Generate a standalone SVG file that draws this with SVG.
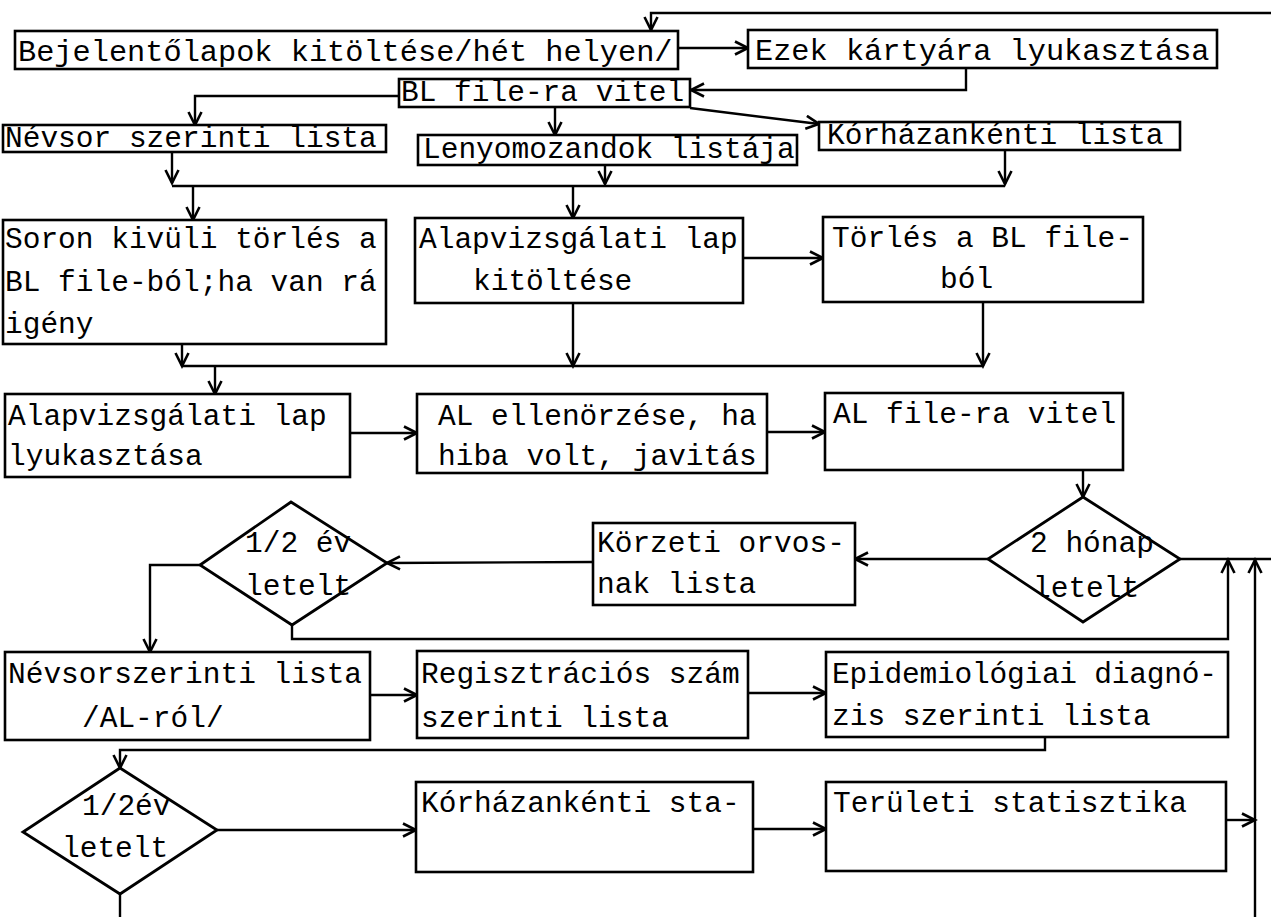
<svg xmlns="http://www.w3.org/2000/svg" width="1271" height="917" viewBox="0 0 1271 917">
<defs>
<marker id="arr" markerUnits="userSpaceOnUse" markerWidth="18" markerHeight="16" refX="15" refY="8" orient="auto">
<path d="M2,1.5 L15,8 L2,14.5" fill="none" stroke="#000" stroke-width="2.6"/>
</marker>
<style>
.box{fill:#fff;stroke:#000;stroke-width:2.6}
.dia{fill:#fff;stroke:#000;stroke-width:2.8}
.t{font-family:"Liberation Mono","Courier New",monospace;font-size:29.5px;fill:#000}
.tb{font-size:30.3px}
.c{fill:none;stroke:#000;stroke-width:2.4}
.a{fill:none;stroke:#000;stroke-width:2.4;marker-end:url(#arr)}
</style>
</defs>
<rect width="1271" height="917" fill="#fff"/>

<g id="connectors">
<path class="a" d="M1271,13 L651,13 L651,30"/>
<path class="a" d="M678,48 L748,48"/>
<path class="a" d="M966,68 L966,90 L691,90"/>
<path class="a" d="M400,96 L195,96 L195,125"/>
<path class="a" d="M555,107 L555,135"/>
<path class="a" d="M690,108 L819,124"/>
<path class="a" d="M172,152 L172,183"/>
<path class="a" d="M605,165 L605,184"/>
<path class="a" d="M1005,150 L1005,184"/>
<path class="c" d="M172,186 L1005,186"/>
<path class="a" d="M193,186 L193,220"/>
<path class="a" d="M573,186 L573,218"/>
<path class="a" d="M743,258 L823,258"/>
<path class="a" d="M182,344 L182,366"/>
<path class="a" d="M573,303 L573,366"/>
<path class="a" d="M983,302 L983,366"/>
<path class="c" d="M182,366 L983,366"/>
<path class="a" d="M215,366 L215,394"/>
<path class="a" d="M350,433 L417,433"/>
<path class="a" d="M767,432 L825,432"/>
<path class="a" d="M1083,470 L1083,497"/>
<path class="a" d="M988,559 L855,559"/>
<path class="a" d="M593,562 L387,563"/>
<path class="a" d="M200,565 L150,565 L150,652"/>
<path class="a" d="M292,625 L292,639 L1228,639 L1228,560"/>
<path class="c" d="M1180,559 L1271,559"/>
<path class="a" d="M1255,917 L1255,560"/>
<path class="a" d="M370,695 L417,695"/>
<path class="a" d="M748,693 L826,693"/>
<path class="a" d="M1045,737 L1045,750 L120,750 L120,768"/>
<path class="a" d="M217,830 L416,830"/>
<path class="a" d="M753,829 L826,829"/>
<path class="a" d="M1226,820 L1255,820"/>
<path class="c" d="M120,894 L120,917"/>
</g>

<g id="n1"><rect class="box" x="15" y="31" width="663" height="38"/><text class="t tb" x="18" y="61">Bejelentőlapok kitöltése/hét helyen/</text></g>
<g id="n2"><rect class="box" x="748" y="30" width="469" height="38"/><text class="t tb" x="755" y="60">Ezek kártyára lyukasztása</text></g>
<g id="n3"><rect class="box" x="399" y="79" width="291" height="28"/><text class="t" x="401" y="101">BL file-ra vitel</text></g>
<g id="n4"><rect class="box" x="3" y="125" width="383" height="27"/><text class="t" x="5" y="147">Névsor szerinti lista</text></g>
<g id="n5"><rect class="box" x="418" y="135" width="379" height="30"/><text class="t" x="423" y="158">Lenyomozandok listája</text></g>
<g id="n6"><rect class="box" x="819" y="122" width="361" height="28"/><text class="t" x="827" y="144">Kórházankénti lista</text></g>
<g id="n7"><rect class="box" x="3" y="220" width="383" height="124"/><text class="t" x="5" y="248">Soron kivüli törlés a</text><text class="t" x="5" y="291">BL file-ból;ha van rá</text><text class="t" x="5" y="333">igény</text></g>
<g id="n8"><rect class="box" x="415" y="218" width="328" height="85"/><text class="t" x="419" y="248">Alapvizsgálati lap</text><text class="t" x="473" y="290">kitöltése</text></g>
<g id="n9"><rect class="box" x="823" y="217" width="320" height="85"/><text class="t" x="832" y="247">Törlés a BL file-</text><text class="t" x="940" y="288">ból</text></g>
<g id="n10"><rect class="box" x="5" y="394" width="345" height="83"/><text class="t" x="8" y="425">Alapvizsgálati lap</text><text class="t" x="8" y="465">lyukasztása</text></g>
<g id="n11"><rect class="box" x="417" y="394" width="350" height="79"/><text class="t" x="438" y="425">AL ellenörzése, ha</text><text class="t" x="438" y="465">hiba volt, javitás</text></g>
<g id="n12"><rect class="box" x="825" y="393" width="298" height="77"/><text class="t" x="833" y="423">AL file-ra vitel</text></g>
<g id="n13"><polygon class="dia" points="1083,497 1180,559 1083,622 988,559"/><text class="t" x="1030" y="552">2 hónap</text><text class="t" x="1033" y="597">letelt</text></g>
<g id="n14"><rect class="box" x="593" y="523" width="262" height="82"/><text class="t" x="597" y="552">Körzeti orvos-</text><text class="t" x="597" y="593">nak lista</text></g>
<g id="n15"><polygon class="dia" points="291,502 387,563 292,625 200,565"/><text class="t" x="245" y="552">1/2 év</text><text class="t" x="245" y="595">letelt</text></g>
<g id="n16"><rect class="box" x="5" y="652" width="365" height="88"/><text class="t" x="8" y="683">Névsorszerinti lista</text><text class="t" x="82" y="727">/AL-ról/</text></g>
<g id="n17"><rect class="box" x="417" y="651" width="331" height="87"/><text class="t" x="421" y="683">Regisztrációs szám</text><text class="t" x="421" y="727">szerinti lista</text></g>
<g id="n18"><rect class="box" x="826" y="652" width="402" height="85"/><text class="t" x="832" y="683" textLength="385">Epidemiológiai diagnó-</text><text class="t" x="832" y="725">zis szerinti lista</text></g>
<g id="n19"><polygon class="dia" points="120,768 217,830 120,894 23,832"/><text class="t" x="82" y="815">1/2év</text><text class="t" x="62" y="857">letelt</text></g>
<g id="n20"><rect class="box" x="416" y="782" width="337" height="90"/><text class="t" x="421" y="812">Kórházankénti sta-</text></g>
<g id="n21"><rect class="box" x="826" y="782" width="400" height="89"/><text class="t" x="833" y="812">Területi statisztika</text></g>
</svg>
